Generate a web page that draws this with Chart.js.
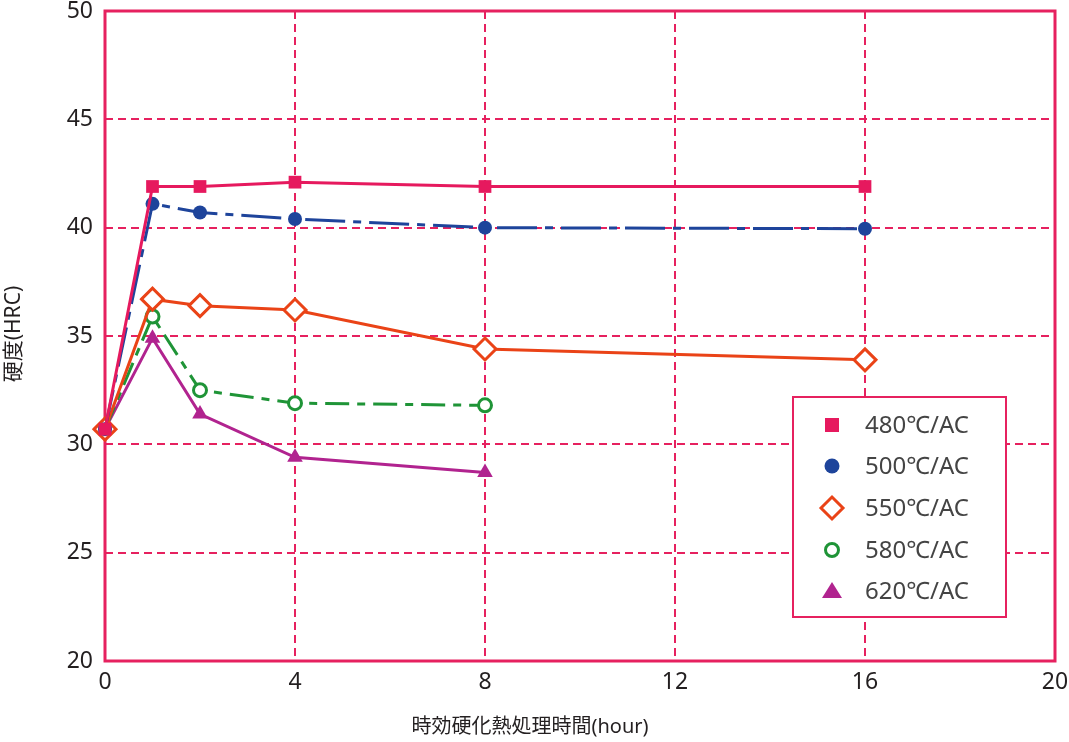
<!DOCTYPE html>
<html>
<head>
<meta charset="utf-8">
<script src="https://cdn.jsdelivr.net/npm/chart.js@4.4.0/dist/chart.umd.min.js"></script>
<style>
  html, body { margin: 0; padding: 0; background: #fff; overflow: hidden; }
  #wrap { width: 1069px; height: 742px; overflow: hidden; }
  #hardChart { display: block; margin-top: -3px; }
</style>
</head>
<body>
<div id="wrap"><canvas id="hardChart" width="1069" height="745"></canvas></div>
<script>
// データ
const hours = [0, 1, 2, 4, 8, 16];
const hrc480 = [30.7, 41.9, 41.9, 42.1, 41.9, 41.9];
const hrc500 = [30.7, 41.1, 40.7, 40.4, 40.0, 39.95];
const hrc550 = [30.7, 36.7, 36.4, 36.2, 34.4, 33.9];
const hrc580 = [30.7, 35.9, 32.5, 31.9, 31.8];
const hrc620 = [30.7, 34.9, 31.4, 29.4, 28.7];
const seriesLabels = ['480℃/AC', '500℃/AC', '550℃/AC', '580℃/AC', '620℃/AC'];

const FRAME = '#e6215f';
const TEXT = '#231f20';
const FONT = '"Noto Sans", "Noto Sans CJK JP", sans-serif';
const DY = 3; // キャンバスを上に3pxずらしている分

function pts(vals) {
    return vals.map((v, i) => ({ x: hours[i], y: v }));
}

// 枠線と軸タイトル、凡例を描くプラグイン
const framePlugin = {
    id: 'frame',
    beforeDatasetsDraw(chart) {
        const { ctx, chartArea: a } = chart;
        ctx.save();
        ctx.strokeStyle = FRAME;
        ctx.lineWidth = 3;
        ctx.strokeRect(a.left, a.top, a.right - a.left, a.bottom - a.top);
        ctx.restore();
    },
    afterDraw(chart) {
        const { ctx } = chart;
        ctx.save();
        ctx.fillStyle = TEXT;
        ctx.font = '20px ' + FONT;
        ctx.textAlign = 'center';
        ctx.textBaseline = 'middle';
        ctx.fillText('時効硬化熱処理時間(hour)', 530, 727 + DY);
        ctx.font = '21px ' + FONT;
        ctx.translate(14, 334 + DY);
        ctx.rotate(-Math.PI / 2);
        ctx.fillText('硬度(HRC)', 0, 0);
        ctx.restore();

        // 凡例
        const box = { l: 793, t: 397 + DY, r: 1006, b: 617 + DY };
        ctx.save();
        ctx.fillStyle = '#fff';
        ctx.fillRect(box.l, box.t, box.r - box.l, box.b - box.t);
        ctx.strokeStyle = FRAME;
        ctx.lineWidth = 2;
        ctx.strokeRect(box.l, box.t, box.r - box.l, box.b - box.t);
        const rowY = [425, 466, 508, 550, 591];
        chart.data.datasets.forEach((ds, i) => {
            const x = 832, y = rowY[i] + DY;
            ctx.beginPath();
            ctx.lineWidth = 3;
            ctx.strokeStyle = ds.borderColor;
            ctx.fillStyle = ds.pointBackgroundColor;
            if (ds.pointStyle === 'rect') {
                ctx.rect(x - 7, y - 7, 14, 14);
                ctx.fill();
            } else if (ds.pointStyle === 'circle' && ds.pointBackgroundColor !== '#fff') {
                ctx.arc(x, y, 7.5, 0, Math.PI * 2);
                ctx.fill();
            } else if (ds.pointStyle === 'circle') {
                ctx.arc(x, y, 6.5, 0, Math.PI * 2);
                ctx.fill();
                ctx.stroke();
            } else if (ds.pointStyle === 'rectRot') {
                ctx.moveTo(x - 11, y); ctx.lineTo(x, y - 11);
                ctx.lineTo(x + 11, y); ctx.lineTo(x, y + 11);
                ctx.closePath();
                ctx.fill();
                ctx.stroke();
            } else {
                ctx.moveTo(x, y - 9);
                ctx.lineTo(x + 10, y + 7);
                ctx.lineTo(x - 10, y + 7);
                ctx.closePath();
                ctx.fill();
            }
            ctx.fillStyle = '#444';
            ctx.font = '24px ' + FONT;
            ctx.textAlign = 'left';
            ctx.textBaseline = 'middle';
            ctx.fillText(ds.label, 865, y + 1);
        });
        ctx.restore();
    }
};

const ctx = document.getElementById('hardChart').getContext('2d');
const hardChart = new Chart(ctx, {
    type: 'line',
    data: {
        datasets: [{
            label: seriesLabels[0],
            data: pts(hrc480),
            borderColor: '#e6195e',
            backgroundColor: '#e6195e',
            pointBackgroundColor: '#e6195e',
            pointBorderColor: '#e6195e',
            pointStyle: 'rect',
            pointRadius: 9,
            pointBorderWidth: 0,
            borderWidth: 3,
            clip: false
        }, {
            label: seriesLabels[1],
            data: pts(hrc500),
            borderColor: '#1e449b',
            backgroundColor: '#1e449b',
            pointBackgroundColor: '#1e449b',
            pointBorderColor: '#1e449b',
            pointStyle: 'circle',
            pointRadius: 7,
            pointBorderWidth: 0,
            borderWidth: 3,
            borderDash: [40, 8, 8, 8],
            clip: false
        }, {
            label: seriesLabels[2],
            data: pts(hrc550),
            borderColor: '#ea4317',
            backgroundColor: '#fff',
            pointBackgroundColor: '#fff',
            pointBorderColor: '#ea4317',
            pointStyle: 'rectRot',
            pointRadius: 11,
            pointBorderWidth: 3,
            borderWidth: 3,
            clip: false
        }, {
            label: seriesLabels[3],
            data: pts(hrc580),
            borderColor: '#1f9437',
            backgroundColor: '#fff',
            pointBackgroundColor: '#fff',
            pointBorderColor: '#1f9437',
            pointStyle: 'circle',
            pointRadius: 6.5,
            pointBorderWidth: 3,
            borderWidth: 3,
            borderDash: [24, 8, 8, 8],
            clip: false
        }, {
            label: seriesLabels[4],
            data: pts(hrc620),
            borderColor: '#b1238f',
            backgroundColor: '#b1238f',
            pointBackgroundColor: '#b1238f',
            pointBorderColor: '#b1238f',
            pointStyle: 'triangle',
            pointRadius: 9,
            pointBorderWidth: 0,
            borderWidth: 3,
            clip: false
        }]
    },
    options: {
        responsive: false,
        animation: false,
        layout: { padding: { left: 0, right: 12, top: 10, bottom: 0 } },
        plugins: {
            legend: { display: false },
            tooltip: { enabled: false }
        },
        scales: {
            x: {
                type: 'linear',
                min: 0,
                max: 20,
                afterFit(scale) {
                    scale.height = 81;
                    scale.paddingLeft = 0;
                    scale.paddingRight = 0;
                },
                ticks: {
                    stepSize: 4,
                    color: TEXT,
                    font: { family: FONT, size: 23 },
                    padding: 8,
                    maxRotation: 0
                },
                grid: {
                    color: (c) => (c.tick && (c.tick.value === 0 || c.tick.value === 20)) ? 'rgba(0,0,0,0)' : FRAME,
                    lineWidth: 2,
                    drawTicks: false
                },
                border: { display: false, dash: [8, 5] }
            },
            y: {
                min: 20,
                max: 50,
                afterFit(scale) {
                    scale.width = 105;
                    scale.paddingTop = 0;
                    scale.paddingBottom = 0;
                },
                ticks: {
                    stepSize: 5,
                    color: TEXT,
                    font: { family: FONT, size: 23, lineHeight: 0.8 },
                    padding: 12
                },
                grid: {
                    color: (c) => (c.tick && (c.tick.value === 20 || c.tick.value === 50)) ? 'rgba(0,0,0,0)' : FRAME,
                    lineWidth: 2,
                    drawTicks: false
                },
                border: { display: false, dash: [8, 5] }
            }
        }
    },
    plugins: [framePlugin]
});
</script>
</body>
</html>
